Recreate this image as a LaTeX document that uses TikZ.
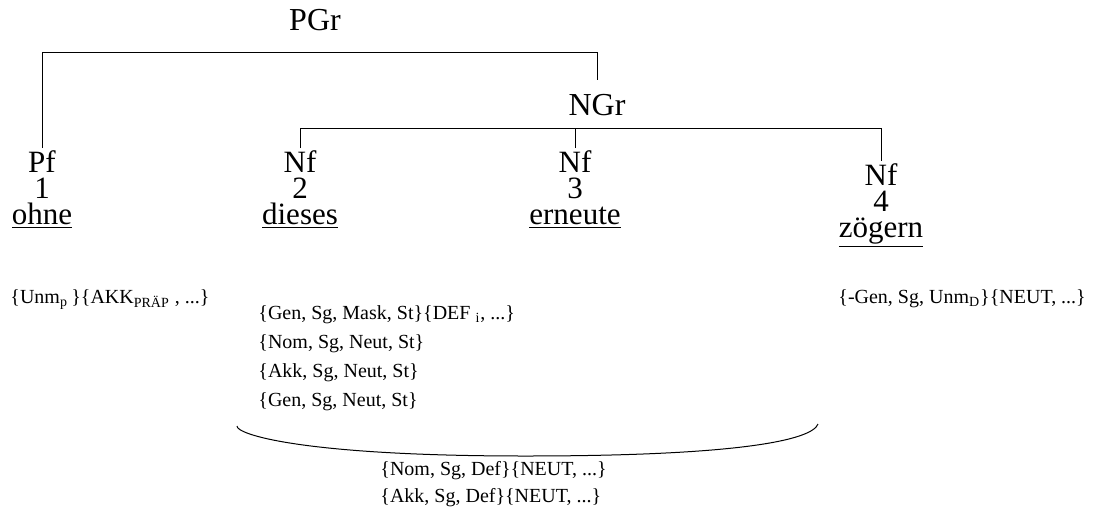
\documentclass[tikz,border=0pt]{standalone}
\usepackage{fontspec}
\setmainfont{Liberation Serif}
\usepackage{tikz}

\tikzset{
  cat/.style={anchor=north, align=center, inner sep=1pt, font=\fontsize{15.5}{13}\selectfont},
  grp/.style={anchor=center, inner sep=1pt, font=\fontsize{16}{16}\selectfont},
  feat/.style={anchor=base west, align=left, inner sep=0pt, font=\fontsize{10}{14.5}\selectfont},
  tree/.style={line width=0.5pt}
}

\begin{document}
\begin{tikzpicture}[x=0.5pt, y=-0.5pt]
\useasboundingbox (0,0) rectangle (1113,509);
% group labels
\node[grp] (pgr) at (315,20) {PGr};
\node[grp] (ngr) at (597,105) {NGr};
\coordinate (pgrbar) at (0,52);
\coordinate (ngrbar) at (0,128);
% word nodes
\node[cat] (pf)  at (42,148)  {Pf\\1\\\underline{ohne}};
\node[cat] (nf2) at (300,148) {Nf\\2\\\underline{dieses}};
\node[cat] (nf3) at (575,148) {Nf\\3\\\underline{erneute}};
\node[cat] (nf4) at (881,161) {Nf\\4\\\underline{zögern}};
% branches
\draw[tree] (pf.north) -- (pf.north |- pgrbar) -| ([yshift=6pt]ngr.north);
\draw[tree] (nf2.north) -- (nf2.north |- ngrbar) -| (nf4.north);
\draw[tree] (nf3.north) -- (nf3.north |- ngrbar);
% features (base = last line)
\node[feat] (f1) at (10,303) {\{Unm\textsubscript{p}\,\}\{AKK\textsubscript{PRÄP} , ...\}};
\node[feat] (f2) at (258,406) {\{Gen, Sg, Mask, St\}\{DEF \textsubscript{i}, ...\}\\
  \{Nom, Sg, Neut, St\}\\
  \{Akk, Sg, Neut, St\}\\
  \{Gen, Sg, Neut, St\}};
\node[feat] (f4) at (838,303) {\{-Gen, Sg, Unm\textsubscript{D}\}\{NEUT, ...\}};
\node[feat, font=\fontsize{10}{13.5}\selectfont] (f5) at (380,502) {\{Nom, Sg, Def\}\{NEUT, ...\}\\
  \{Akk, Sg, Def\}\{NEUT, ...\}};
% grouping arc
\draw[tree] (237,426) .. controls (236,434) and (300,456) .. (525,456)
  .. controls (740,456) and (812,440) .. (818,424);
\end{tikzpicture}
\end{document}
